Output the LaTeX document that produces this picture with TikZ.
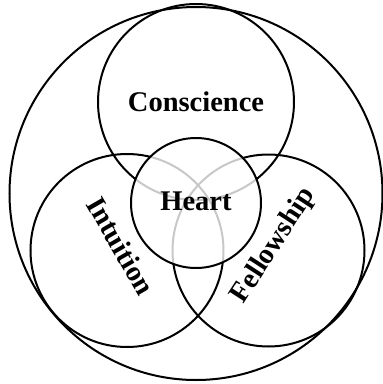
\documentclass[tikz,border=0pt]{standalone}
\usepackage{fontspec}
\setmainfont{Liberation Serif}
\usepackage{tikz}
\usetikzlibrary{positioning,calc}
\definecolor{ringgray}{RGB}{200,200,200}

\begin{document}
\begin{tikzpicture}[x=1pt, y=-1pt,
        ring/.style={draw=black, line width=2pt},
        faint/.style={draw=ringgray, line width=2pt},
        lbl/.style={font=\fontsize{28.5}{31}\selectfont\bfseries, inner sep=0pt}]

      \useasboundingbox (0,0) rectangle (383,384);

      \coordinate (whole) at (196,193.5);
      \coordinate (top) at (196,102);
      \coordinate (left) at (127,250.5);
      \coordinate (right) at (268.5,250.5);
      \coordinate (core) at (196,203);

      \draw[ring] (whole) circle (186.5);
      \draw[ring] (top) circle (98);
      \draw[ring] (left) circle (96.5);
      \draw[ring] (right) circle (96);

      % overlap inside the heart in light gray
      \fill[white] (core) circle (65);
      \begin{scope}
        \clip (core) circle (65);
        \draw[faint] (top) circle (98);
        \draw[faint] (left) circle (96.5);
        \draw[faint] (right) circle (96);
      \end{scope}
      \draw[ring] (core) circle (65);

      \node[lbl] (conscience) at (196,102) {Conscience};
      \node[lbl] (heart) at (196,201) {Heart};
      \node[lbl, rotate=-60] (intuition) at (121,246) {Intuition};
      \node[lbl, rotate=57] (fellowship) at (274,246) {Fellowship};
    \end{tikzpicture}
\end{document}
